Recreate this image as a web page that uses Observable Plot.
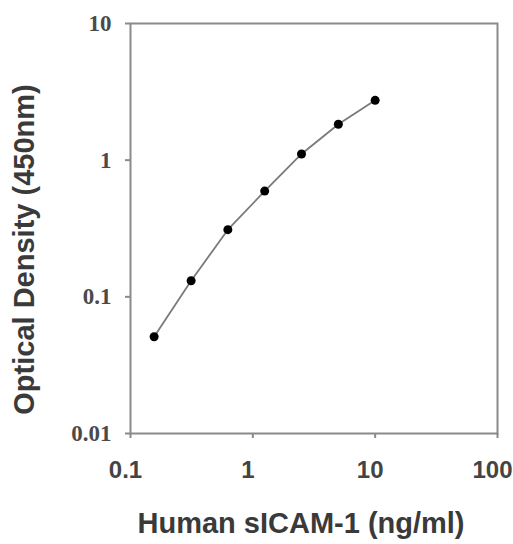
<!DOCTYPE html>
<html>
<head>
<meta charset="utf-8">
<script src="https://cdn.jsdelivr.net/npm/d3@7"></script>
<script src="https://cdn.jsdelivr.net/npm/@observablehq/plot@0.6"></script>
<style>
  html, body { margin: 0; padding: 0; background: #fff; }
  #chart { width: 513px; height: 544px; }
</style>
</head>
<body>
<div id="chart"></div>
<script>
const concentration = [0.156, 0.313, 0.625, 1.25, 2.5, 5, 10];
const opticalDensity = [0.051, 0.131, 0.31, 0.594, 1.11, 1.83, 2.74];
const xTicks = [0.1, 1, 10, 100];
const yTicks = [0.01, 0.1, 1, 10];
const xTitle = "Human sICAM-1 (ng/ml)";
const yTitle = "Optical Density (450nm)";

const data = concentration.map((c, i) => ({c, od: opticalDensity[i]}));
const gray = "#8a8a8a";
const textColor = "#444";

const chart = Plot.plot({
  width: 513,
  height: 544,
  marginLeft: 130,
  marginTop: 23,
  marginRight: 16,
  marginBottom: 111,
  style: {background: "#fff", overflow: "visible"},
  x: {type: "log", domain: [0.1, 100]},
  y: {type: "log", domain: [0.01, 10]},
  marks: [
    Plot.frame({stroke: gray, strokeWidth: 2}),
    Plot.axisX({
      ticks: xTicks, tickSize: 5, stroke: gray, strokeWidth: 2, fill: "none", label: null
    }),
    Plot.axisX({
      ticks: xTicks, tickFormat: d => String(d), tickSize: 0, tickPadding: 27, dx: -5,
      stroke: "none", fill: textColor, fontSize: 24, fontWeight: "bold",
      fontFamily: "Liberation Sans, Arial, sans-serif", label: null
    }),
    Plot.axisY({
      ticks: yTicks, tickFormat: d => String(d), tickSize: 5, tickPadding: 14,
      stroke: gray, strokeWidth: 2, fill: "#4a4a4a", fontSize: 23, fontWeight: "bold",
      fontFamily: "Liberation Serif, Times New Roman, serif", label: null
    }),
    Plot.line(data, {x: "c", y: "od", stroke: "#7a7a7a", strokeWidth: 1.8}),
    Plot.dot(data, {x: "c", y: "od", r: 4.5, fill: "#000", stroke: "none"}),
    Plot.text([xTitle], {
      frameAnchor: "bottom", dx: -13, dy: 90, lineAnchor: "middle", textAnchor: "middle",
      fontSize: 29, fontWeight: "bold", fill: "#3a3a3a",
      fontFamily: "Liberation Sans, Arial, sans-serif"
    }),
    Plot.text([yTitle], {
      frameAnchor: "left", dx: -106, dy: 21, rotate: -90, lineAnchor: "middle", textAnchor: "middle",
      fontSize: 29, fontWeight: "bold", fill: "#3a3a3a",
      fontFamily: "Liberation Sans, Arial, sans-serif"
    })
  ]
});
document.getElementById("chart").appendChild(chart);
</script>
</body>
</html>
